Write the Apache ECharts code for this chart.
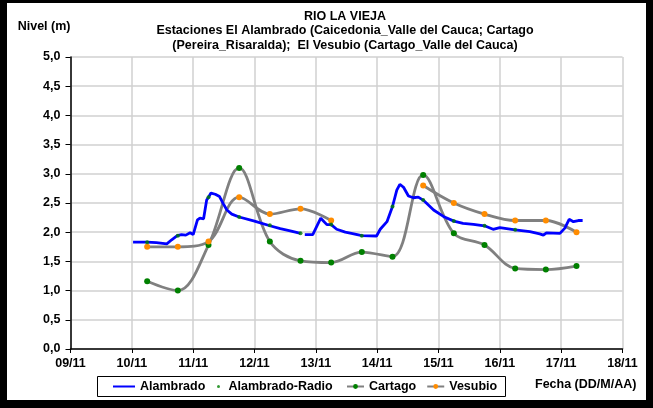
<!DOCTYPE html>
<html>
<head>
<meta charset="utf-8">
<script src="https://cdn.jsdelivr.net/npm/echarts@6/dist/echarts.min.js"></script>
<style>
html,body{margin:0;padding:0;background:#fff;}
#chart{width:653px;height:408px;}
</style>
</head>
<body>
<div id="chart"></div>
<script>
// Days are in November (fractional day of month)
const halfDays = [10.25,10.75,11.25,11.75,12.25,12.75,13.25,13.75,14.25,14.75,15.25,15.75,16.25,16.75,17.25];
const cartagoValues = [1.16,1.00,1.78,3.10,1.84,1.51,1.48,1.66,1.58,2.98,1.98,1.78,1.38,1.36,1.42];
const vesubioValues = [1.75,1.75,1.84,2.60,2.31,2.40,2.20,null,null,2.80,2.50,2.31,2.20,2.20,2.00];
const radioDays = [10.25,10.75,11.25,11.75,12.25,12.75,13.25,13.75,14.25,14.75,15.25,15.75,16.25];
const radioValues = [1.83,1.94,2.60,2.26,2.12,1.98,2.13,1.94,2.44,2.55,2.19,2.11,2.04];
const alambradoDays = [10.02,10.25,10.40,10.57,10.65,10.74,10.81,10.88,10.95,11.00,11.03,11.07,11.11,11.17,11.22,11.25,11.29,11.36,11.43,11.49,11.55,11.63,11.75,12.00,12.25,12.42,12.60,12.75,12.78,12.82,12.95,13.08,13.18,13.25,13.34,13.48,13.58,13.75,13.99,14.05,14.16,14.25,14.32,14.37,14.43,14.51,14.59,14.67,14.75,14.92,15.08,15.25,15.40,15.57,15.75,15.89,16.00,16.25,16.49,16.65,16.71,16.76,16.98,17.06,17.13,17.20,17.28,17.35];
const alambradoValues = [1.83,1.83,1.82,1.80,1.87,1.94,1.96,1.95,1.99,1.96,1.95,2.21,2.24,2.23,2.55,2.60,2.67,2.65,2.61,2.49,2.38,2.31,2.26,2.19,2.11,2.06,2.02,1.98,null,1.96,1.96,2.24,2.13,2.13,2.05,2.00,1.98,1.94,1.935,2.05,2.18,2.44,2.72,2.82,2.77,2.62,2.59,2.60,2.55,2.38,2.27,2.19,2.15,2.135,2.11,2.05,2.08,2.04,2.01,1.97,1.95,1.99,1.98,2.07,2.22,2.18,2.20,2.20];

const pairs = (xs, ys) => xs.map((x, i) => [x, ys[i]]);

const chart = echarts.init(document.getElementById('chart'));
const font = '"Liberation Sans", Arial, sans-serif';
const FS = 12.5;
const legendText = { fontFamily: font, fontSize: FS, fontWeight: 'bold', color: '#000' };

chart.setOption({
  animation: false,
  textStyle: { fontFamily: font },
  title: {
    text: 'RIO LA VIEJA\nEstaciones El Alambrado (Caicedonia_Valle del Cauca; Cartago\n(Pereira_Risaralda);  El Vesubio (Cartago_Valle del Cauca)',
    left: 345, top: 9, padding: 0, textAlign: 'center',
    textStyle: { fontFamily: font, fontSize: FS, fontWeight: 'bold', color: '#000', lineHeight: 14.5 }
  },
  grid: { left: 70.5, right: 30.5, top: 57, bottom: 59 },
  xAxis: {
    type: 'value', min: 9, max: 18, interval: 1,
    axisLine: { lineStyle: { color: '#000', width: 1.5 } },
    axisTick: { show: true, length: 4, lineStyle: { color: '#000' } },
    splitLine: { show: true, lineStyle: { color: '#d0d0d0', width: 1.5 } },
    axisLabel: {
      margin: 8, color: '#000', fontWeight: 'bold', fontSize: FS, fontFamily: font,
      formatter: v => String(Math.round(v)).padStart(2, '0') + '/11'
    }
  },
  yAxis: {
    type: 'value', min: 0, max: 5, interval: 0.5,
    name: 'Nivel (m)', nameLocation: 'end', nameGap: 30,
    nameTextStyle: { align: 'right', verticalAlign: 'middle', color: '#000', fontWeight: 'bold', fontSize: FS, fontFamily: font },
    axisLine: { show: true, lineStyle: { color: '#000', width: 1.5 } },
    axisTick: { show: true, length: 5, lineStyle: { color: '#000' } },
    splitLine: { show: true, lineStyle: { color: '#d0d0d0', width: 1.5 } },
    axisLabel: {
      margin: 10, color: '#000', fontWeight: 'bold', fontSize: FS, fontFamily: font,
      formatter: v => v.toFixed(1).replace('.', ',')
    }
  },
  legend: [
    {
      left: 112, top: 380, padding: 0, itemWidth: 22, itemHeight: 8, itemGap: 10,
      textStyle: legendText,
      data: [{ name: 'Alambrado', itemStyle: { opacity: 0 } }]
    },
    {
      left: 217, top: 380, padding: 0, itemWidth: 10, itemHeight: 3,
      textStyle: legendText,
      data: ['Alambrado-Radio']
    },
    {
      left: 346, top: 380, padding: 0, itemWidth: 17, itemHeight: 6, itemGap: 10,
      textStyle: legendText,
      data: ['Cartago', 'Vesubio']
    }
  ],
  graphic: [
    { type: 'rect', shape: { x: 97.5, y: 376.5, width: 408, height: 20 }, style: { fill: 'none', stroke: '#000', lineWidth: 1 } },
    { type: 'text', left: 535, top: 378, style: { text: 'Fecha (DD/M/AA)', font: 'bold ' + FS + 'px ' + font, fill: '#000' } },
    { type: 'rect', shape: { x: 0, y: 0, width: 7, height: 408 }, style: { fill: '#000' } },
    { type: 'rect', shape: { x: 646, y: 0, width: 7, height: 408 }, style: { fill: '#000' } },
    { type: 'rect', shape: { x: 0, y: 0, width: 653, height: 3 }, style: { fill: '#000' } },
    { type: 'rect', shape: { x: 0, y: 400, width: 653, height: 8 }, style: { fill: '#000' } }
  ],
  series: [
    {
      name: 'Alambrado', type: 'line', data: pairs(alambradoDays, alambradoValues),
      showSymbol: false, symbol: 'none', connectNulls: false,
      lineStyle: { color: '#0000ff', width: 2.8 }, itemStyle: { color: '#0000ff' }, z: 3
    },
    {
      name: 'Cartago', type: 'line', data: pairs(halfDays, cartagoValues),
      smooth: 0.35, symbol: 'circle', symbolSize: 6,
      lineStyle: { color: '#808080', width: 2.8 }, itemStyle: { color: '#008000' }, z: 2
    },
    {
      name: 'Vesubio', type: 'line', data: pairs(halfDays, vesubioValues),
      smooth: 0.35, symbol: 'circle', symbolSize: 6, connectNulls: false,
      lineStyle: { color: '#808080', width: 2.8 }, itemStyle: { color: '#ff8c00' }, z: 2
    },
    {
      name: 'Alambrado-Radio', type: 'scatter', data: pairs(radioDays, radioValues),
      symbol: 'circle', symbolSize: 4, itemStyle: { color: '#008000' }, z: 4
    }
  ]
});
</script>
</body>
</html>
